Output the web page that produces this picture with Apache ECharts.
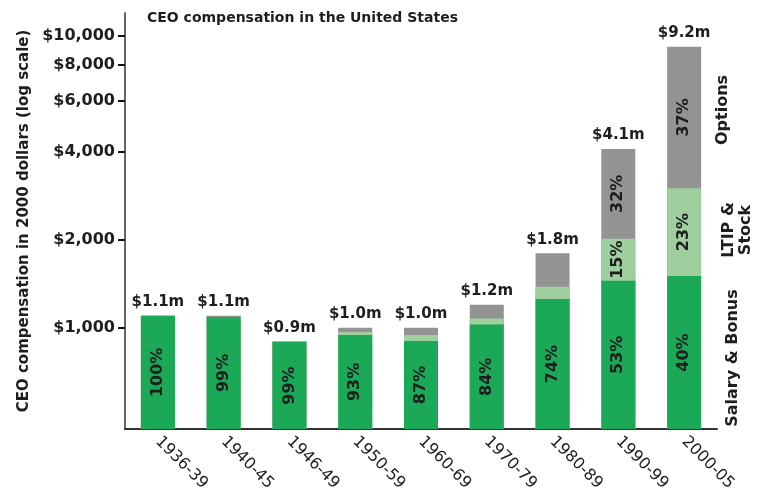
<!DOCTYPE html>
<html>
<head>
<meta charset="utf-8">
<script src="https://cdn.jsdelivr.net/npm/echarts@6/dist/echarts.min.js"></script>
<style>
html, body { margin: 0; padding: 0; background: #fff; }
#main { width: 761px; height: 502px; }
</style>
</head>
<body>
<div id="main"></div>
<script>
// periods on the x axis
let periods = ['1936-39', '1940-45', '1946-49', '1950-59', '1960-69', '1970-79', '1980-89', '1990-99', '2000-05'];
// total pay per period, thousands of 2000 dollars
let totals = [1100, 1100, 900, 1000, 1000, 1200, 1800, 4100, 9200];
let totalLabels = ['$1.1m', '$1.1m', '$0.9m', '$1.0m', '$1.0m', '$1.2m', '$1.8m', '$4.1m', '$9.2m'];
// share of the total, percent
let salaryShare = [100, 99, 99, 93, 87, 84, 74, 53, 40];
let ltipShare = [0, 0, 0, 3, 6, 5, 7, 15, 23];
let optionShare = [0, 1, 1, 4, 7, 11, 19, 32, 37];
// which shares are printed in the bars
let ltipLabels = ['', '', '', '', '', '', '', '15%', '23%'];
let optionLabels = ['', '', '', '', '', '', '', '32%', '37%'];
// y axis ticks
let yTicks = [1000, 2000, 4000, 6000, 8000, 10000];

let yMin = 450;
let yMax = 12000;
let font = 'DejaVu Sans';
let green = '#1ba958';
let lightGreen = '#9fcf9f';
let grey = '#939393';

let myChart;

// the segments split each bar by its height, as in the original
function splitValue(total, share) {
	return yMin * Math.pow(total / yMin, share / 100);
}

function init() {
	myChart = echarts.init(document.getElementById('main'));

	let salaryData = [];
	let ltipData = [];
	let optionData = [];
	let totalData = [];
	for (let i = 0; i < periods.length; i++) {
		salaryData.push({ value: splitValue(totals[i], salaryShare[i]) });
		let upto = salaryShare[i] + ltipShare[i];
		ltipData.push({
			value: splitValue(totals[i], upto),
			label: { position: ['50%', (ltipShare[i] / 2 / upto * 100) + '%'] }
		});
		optionData.push({
			value: totals[i],
			label: { position: ['50%', (optionShare[i] / 2) + '%'] }
		});
		totalData.push(totals[i]);
	}

	let pctLabel = {
		show: true,
		rotate: 90,
		align: 'center',
		verticalAlign: 'middle',
		fontFamily: font,
		fontWeight: 'bold',
		fontSize: 16,
		color: '#1e1e1e'
	};

	let option = {
		animation: false,
		textStyle: { fontFamily: font },
		title: {
			text: 'CEO compensation in the United States',
			left: 142,
			top: 6,
			textStyle: { fontFamily: font, fontWeight: 'bold', fontSize: 14, color: '#1e1e1e' }
		},
		grid: { left: 125, right: 44, top: 13, bottom: 73 },
		xAxis: {
			type: 'category',
			data: periods,
			axisLine: { lineStyle: { color: '#333', width: 2 } },
			axisTick: { show: false },
			axisLabel: {
				interval: 0,
				rotate: -45,
				margin: 10,
				fontFamily: font,
				fontSize: 16,
				color: '#1e1e1e'
			}
		},
		yAxis: {
			type: 'log',
			logBase: 10,
			min: yMin,
			max: yMax,
			startValue: yMin,
			name: 'CEO compensation in 2000 dollars (log scale)',
			nameLocation: 'middle',
			nameRotate: 90,
			nameGap: 86,
			nameTextStyle: { fontFamily: font, fontWeight: 'bold', fontSize: 15, color: '#1e1e1e' },
			axisLine: { show: true, lineStyle: { color: '#666', width: 2 } },
			axisTick: { show: true, length: 7, lineStyle: { color: '#111', width: 2 }, customValues: yTicks },
			axisLabel: {
				customValues: yTicks,
				formatter: function (v) { return '$' + Number(v).toLocaleString('en-US'); },
				margin: 10,
				fontFamily: font,
				fontWeight: 'bold',
				fontSize: 16,
				color: '#1e1e1e'
			},
			splitLine: { show: false }
		},
		series: [
			{
				name: 'Options',
				type: 'bar',
				barWidth: 34,
				barGap: '-100%',
				itemStyle: { color: grey },
				label: Object.assign({}, pctLabel, {
					formatter: function (p) { return optionLabels[p.dataIndex]; }
				}),
				data: optionData
			},
			{
				name: 'LTIP & Stock',
				type: 'bar',
				barWidth: 34,
				barGap: '-100%',
				itemStyle: { color: lightGreen },
				label: Object.assign({}, pctLabel, {
					formatter: function (p) { return ltipLabels[p.dataIndex]; }
				}),
				data: ltipData
			},
			{
				name: 'Salary & Bonus',
				type: 'bar',
				barWidth: 34,
				barGap: '-100%',
				itemStyle: { color: green },
				label: Object.assign({}, pctLabel, {
					position: 'inside',
					formatter: function (p) { return salaryShare[p.dataIndex] + '%'; }
				}),
				data: salaryData
			},
			{
				name: 'Total',
				type: 'bar',
				barWidth: 34,
				barGap: '-100%',
				itemStyle: { color: 'rgba(0,0,0,0)' },
				label: {
					show: true,
					position: 'top',
					distance: 6,
					fontFamily: font,
					fontWeight: 'bold',
					fontSize: 15,
					color: '#1e1e1e',
					formatter: function (p) { return totalLabels[p.dataIndex]; }
				},
				data: totalData
			}
		],
		graphic: [
			{
				type: 'text', x: 723, y: 110, rotation: Math.PI / 2,
				style: { text: 'Options', align: 'center', verticalAlign: 'middle', font: 'bold 16px "DejaVu Sans"', fill: '#1e1e1e' }
			},
			{
				type: 'text', x: 737, y: 230, rotation: Math.PI / 2,
				style: { text: 'LTIP &\nStock', align: 'center', verticalAlign: 'middle', lineHeight: 17, font: 'bold 16px "DejaVu Sans"', fill: '#1e1e1e' }
			},
			{
				type: 'text', x: 733, y: 358, rotation: Math.PI / 2,
				style: { text: 'Salary & Bonus', align: 'center', verticalAlign: 'middle', font: 'bold 16px "DejaVu Sans"', fill: '#1e1e1e' }
			}
		]
	};

	myChart.setOption(option);
}

init();
</script>
</body>
</html>
